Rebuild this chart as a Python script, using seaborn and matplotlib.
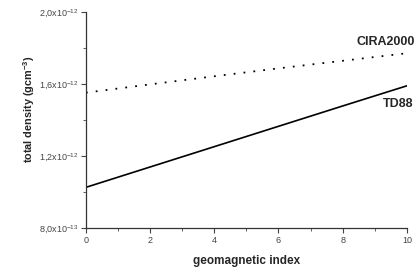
import numpy as np
import pandas as pd
import matplotlib
matplotlib.use("Agg")
import matplotlib.pyplot as plt
import seaborn as sns
from matplotlib.ticker import FuncFormatter

# values (units of 1e-12 g/cm^3)
geomag_index = [0, 2, 4, 6, 8, 10]
cira2000 = [1.552, 1.598, 1.643, 1.687, 1.729, 1.771]
td88 = [1.026, 1.139, 1.252, 1.365, 1.478, 1.590]
y_major = [0.8e-12, 1.2e-12, 1.6e-12, 2.0e-12]
y_minor = [1.0e-12, 1.4e-12, 1.8e-12]
x_major = [0, 2, 4, 6, 8, 10]
x_minor = [1, 3, 5, 7, 9]

df = pd.DataFrame({
    "index": geomag_index * 2,
    "density": [v * 1e-12 for v in cira2000 + td88],
    "model": ["CIRA2000"] * len(geomag_index) + ["TD88"] * len(geomag_index),
})

sns.set_style("ticks")
plt.rcParams["font.family"] = ["Liberation Sans", "DejaVu Sans"]
plt.rcParams["mathtext.fontset"] = "custom"
plt.rcParams["mathtext.rm"] = "Liberation Sans"
plt.rcParams["mathtext.bf"] = "Liberation Sans:bold"

fig = plt.figure(figsize=(4.19, 2.67), dpi=100)
ax = fig.add_axes([0.205, 0.146, 0.766, 0.809])

sns.lineplot(data=df[df.model == "CIRA2000"], x="index", y="density", ax=ax,
             color="black", lw=1.3, linestyle=(0, (1, 4.5)))
sns.lineplot(data=df[df.model == "TD88"], x="index", y="density", ax=ax,
             color="black", lw=1.2)

ax.set_xlim(0, 10)
ax.set_ylim(0.8e-12, 2.0e-12)
ax.set_xticks(x_major)
ax.set_xticks(x_minor, minor=True)
ax.set_yticks(y_major)
ax.set_yticks(y_minor, minor=True)


def sci_fmt(v, pos):
    exp = int(np.floor(np.log10(abs(v)) + 1e-9))
    mant = v / 10 ** exp
    return f"{mant:.1f}".replace(".", ",") + "x10$^{" + str(exp) + "}$"


ax.yaxis.set_major_formatter(FuncFormatter(sci_fmt))
ax.tick_params(which="major", length=3.5, width=0.8, labelsize=6.5, colors="#444444", pad=2)
ax.tick_params(which="minor", length=2, width=0.6, colors="#444444")
for side in ["left", "bottom"]:
    ax.spines[side].set_color("#333333")
    ax.spines[side].set_linewidth(0.9)
sns.despine(ax=ax)

ax.set_xlabel("geomagnetic index", fontsize=8.5, fontweight="bold")
ax.xaxis.set_label_coords(0.5, -0.125)
ax.set_ylabel("total density (gcm$^{\\mathbf{-3}}$)", fontsize=7.8, fontweight="bold")
ax.yaxis.set_label_coords(-0.152, 0.55)

ax.text(10.25, 1.80e-12, "CIRA2000", fontsize=9, fontweight="bold",
        ha="right", va="bottom", clip_on=False)
ax.text(10.19, 1.455e-12, "TD88", fontsize=9, fontweight="bold",
        ha="right", va="bottom", clip_on=False)

fig.savefig("out.png", dpi=100)
